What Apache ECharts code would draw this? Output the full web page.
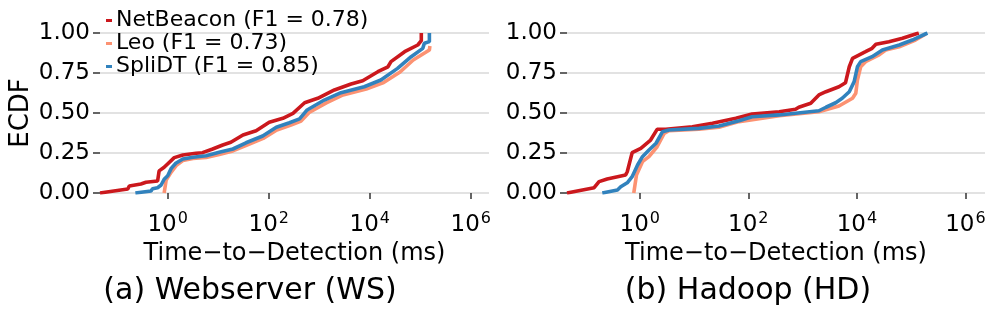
<!DOCTYPE html>
<html><head><meta charset="utf-8">
<script src="https://cdn.jsdelivr.net/npm/echarts@6/dist/echarts.min.js"></script>
<style>html,body{margin:0;padding:0;background:#fff}#c{width:997px;height:309px}</style>
</head><body><div id="c"></div>
<script>
// ---- data (x values are read as log10 of milliseconds) ----
const seriesNames = ['NetBeacon (F1 = 0.78)', 'Leo (F1 = 0.73)', 'SpliDT (F1 = 0.85)'];
const seriesColors = ['#CB181D', '#FC9272', '#3182BD'];
const xTickValues = [1, 100, 10000, 1000000];
const yTickLabels = ['0.00', '0.25', '0.50', '0.75', '1.00'];
const panelCaptions = ['(a) Webserver (WS)', '(b) Hadoop (HD)'];

// Webserver (WS)
const wsNetBeaconLogMs = [-1.34,-0.79,-0.76,-0.53,-0.43,-0.20,-0.17,-0.07,0.13,0.30,0.56,0.69,0.89,1.09,1.25,1.49,1.75,2.01,2.28,2.48,2.71,2.97,3.30,3.63,3.86,4.16,4.36,4.42,4.69,4.95,5.02,5.02];
const wsNetBeaconEcdf  = [0,0.025,0.044,0.056,0.067,0.075,0.138,0.161,0.221,0.238,0.248,0.252,0.275,0.300,0.317,0.363,0.389,0.442,0.467,0.498,0.564,0.592,0.644,0.681,0.702,0.758,0.789,0.821,0.883,0.925,0.952,1.0];
const wsLeoLogMs = [-0.07,-0.03,0.07,0.18,0.30,0.50,0.76,1.02,1.29,1.57,1.89,2.16,2.44,2.64,2.80,3.14,3.47,3.93,4.26,4.60,4.86,5.10,5.18,5.19];
const wsLeoEcdf  = [0,0.081,0.131,0.175,0.203,0.216,0.222,0.241,0.263,0.300,0.341,0.394,0.425,0.450,0.503,0.563,0.613,0.650,0.688,0.756,0.831,0.878,0.894,0.919];
const wsSpliDTLogMs = [-0.64,-0.33,-0.30,-0.20,-0.13,-0.07,0.00,0.07,0.16,0.30,0.50,0.76,1.02,1.29,1.55,1.88,2.15,2.41,2.61,2.76,3.10,3.43,3.89,4.22,4.55,4.82,5.05,5.08,5.18,5.18];
const wsSpliDTEcdf  = [0,0.013,0.027,0.033,0.050,0.086,0.108,0.154,0.186,0.213,0.223,0.233,0.254,0.275,0.314,0.356,0.411,0.439,0.463,0.519,0.581,0.627,0.664,0.706,0.779,0.852,0.904,0.936,0.946,1.0];

// Hadoop (HD)
const hdNetBeaconLogMs = [-1.34,-0.84,-0.75,-0.60,-0.26,-0.23,-0.14,0.02,0.20,0.32,0.48,0.97,1.34,1.77,2.07,2.57,2.87,2.93,3.15,3.30,3.43,3.67,3.79,3.86,3.92,4.16,4.28,4.35,4.59,4.84,5.14];
const hdNetBeaconEcdf  = [0,0.033,0.071,0.088,0.113,0.133,0.252,0.279,0.331,0.398,0.398,0.414,0.436,0.467,0.494,0.508,0.523,0.536,0.561,0.613,0.633,0.664,0.689,0.789,0.842,0.883,0.904,0.929,0.946,0.967,1.0];
const hdLeoLogMs = [-0.11,-0.06,0.05,0.17,0.32,0.45,0.54,1.09,1.46,1.83,2.57,3.30,3.67,3.92,3.98,4.01,4.07,4.16,4.41,4.53,4.78,5.08,5.27];
const hdLeoEcdf  = [0,0.113,0.196,0.227,0.289,0.373,0.389,0.398,0.411,0.446,0.483,0.508,0.544,0.592,0.623,0.706,0.789,0.821,0.863,0.894,0.914,0.956,0.994];
const hdSpliDTLogMs = [-0.69,-0.41,-0.35,-0.23,-0.14,-0.04,0.05,0.17,0.30,0.42,0.54,1.09,1.46,1.83,2.07,2.57,3.30,3.43,3.61,3.73,3.86,3.95,4.01,4.07,4.28,4.47,4.78,5.02,5.30];
const hdSpliDTEcdf  = [0,0.019,0.039,0.064,0.102,0.175,0.227,0.269,0.311,0.383,0.394,0.404,0.419,0.452,0.477,0.488,0.514,0.536,0.564,0.592,0.633,0.696,0.789,0.821,0.852,0.894,0.925,0.956,1.0];

// ---- build ----
const FONT = 'DejaVu Sans';
const pairs = (lx, ys) => lx.map((v, i) => [Math.pow(10, v), ys[i]]);
const panels = [
  [[wsNetBeaconLogMs, wsNetBeaconEcdf], [wsLeoLogMs, wsLeoEcdf], [wsSpliDTLogMs, wsSpliDTEcdf]],
  [[hdNetBeaconLogMs, hdNetBeaconEcdf], [hdLeoLogMs, hdLeoEcdf], [hdSpliDTLogMs, hdSpliDTEcdf]]
];
const grids = [
  {left: 100, top: 33, width: 389, height: 160},
  {left: 567, top: 33, width: 418, height: 160}
];
const xAxes = grids.map((g, i) => ({
  type: 'log', logBase: 10, gridIndex: i,
  min: Math.pow(10, -1.34), max: Math.pow(10, 6.36),
  offset: 8,
  name: 'Time\u2212to\u2212Detection (ms)', nameLocation: 'middle', nameGap: 40,
  nameTextStyle: {fontFamily: FONT, fontSize: 24, color: '#000'},
  axisLine: {show: false},
  axisTick: {show: true, length: 6, lineStyle: {color: '#333', width: 1.5}, customValues: xTickValues},
  splitLine: {show: false}, minorTick: {show: false},
  axisLabel: {
    customValues: xTickValues, margin: 10, color: '#000', fontFamily: FONT,
    formatter: v => '{b|10}{s|' + Math.round(Math.log10(v)) + '}',
    rich: {
      b: {fontFamily: FONT, fontSize: 23, color: '#000', lineHeight: 26, verticalAlign: 'bottom'},
      s: {fontFamily: FONT, fontSize: 16, color: '#000', lineHeight: 26, verticalAlign: 'top', padding: [0, 0, 0, 1]}
    }
  }
}));
const yAxes = grids.map((g, i) => ({
  type: 'value', gridIndex: i, min: 0, max: 1, interval: 0.25,
  name: i === 0 ? 'ECDF' : '', nameLocation: 'middle', nameGap: 66, nameRotate: 90,
  nameTextStyle: {fontFamily: FONT, fontSize: 26, color: '#000'},
  axisLine: {show: false},
  axisTick: {show: true, length: 7, lineStyle: {color: '#333', width: 1.5}},
  axisLabel: {margin: 10, fontFamily: FONT, fontSize: 23, color: '#000',
    formatter: v => yTickLabels[Math.round(v / 0.25)]},
  splitLine: {show: true, lineStyle: {color: '#d9d9d9', width: 1.6}}
}));
const series = [];
panels.forEach((p, gi) => p.forEach((s, si) => series.push({
  type: 'line', name: seriesNames[si], xAxisIndex: gi, yAxisIndex: gi,
  data: pairs(s[0], s[1]), showSymbol: false, symbol: 'none', animation: false,
  color: seriesColors[si], lineStyle: {width: 3.6, color: seriesColors[si]}, z: 2 + si
})));

const chart = echarts.init(document.getElementById('c'), null, {renderer: 'canvas'});
chart.setOption({
  animation: false,
  backgroundColor: '#fff',
  grid: grids,
  xAxis: xAxes,
  yAxis: yAxes,
  legend: {
    data: seriesNames, orient: 'vertical', left: 106, top: 9, padding: 0, itemGap: 0,
    icon: 'rect', itemWidth: 6, itemHeight: 3, selectedMode: false,
    textStyle: {fontFamily: FONT, fontSize: 22, color: '#000', lineHeight: 23, padding: [0, 0, 0, -1]}
  },
  graphic: [
    {type: 'text', x: 250, y: 291, style: {text: panelCaptions[0], x: 0, y: 0, fontFamily: FONT, fontSize: 30, fill: '#000', align: 'center', verticalAlign: 'middle'}},
    {type: 'text', x: 748, y: 291, style: {text: panelCaptions[1], x: 0, y: 0, fontFamily: FONT, fontSize: 30, fill: '#000', align: 'center', verticalAlign: 'middle'}}
  ],
  series: series
});
</script></body></html>
